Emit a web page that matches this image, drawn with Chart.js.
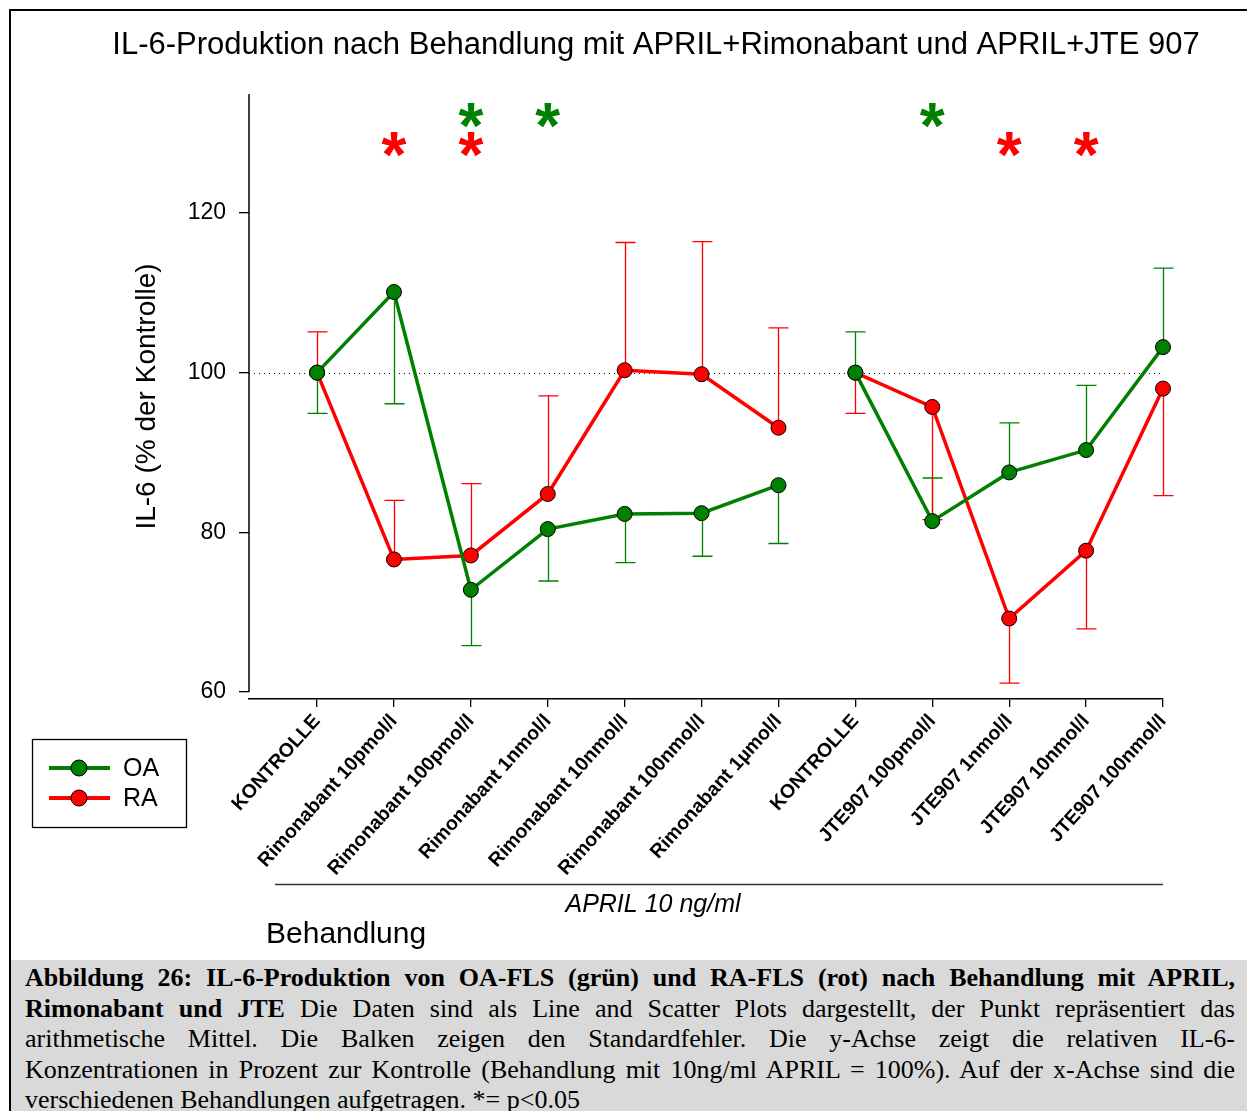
<!DOCTYPE html>
<html lang="de">
<head>
<meta charset="utf-8">
<title>IL-6-Produktion nach Behandlung</title>
<script src="https://cdn.jsdelivr.net/npm/chart.js@4.4.1/dist/chart.umd.min.js"></script>
<style>
  html, body { margin: 0; padding: 0; background: #fff; }
  body { width: 1247px; height: 1111px; position: relative; overflow: hidden; }
  #chart { position: absolute; left: 0; top: 0; }
  #frame { position: absolute; left: 9px; top: 9px; width: 1300px; height: 1200px; border-left: 2px solid #000; border-top: 2px solid #000; pointer-events: none; }
  #caption {
    position: absolute; left: 11px; top: 960px; width: 1236px; height: 151px;
    background: #d9d9d9; box-sizing: border-box; padding: 3px 12px 0 14px;
    font-family: "Liberation Serif", "Times New Roman", serif; font-size: 26px; line-height: 30.5px; color: #000;
  }
  #caption .ln { display: block; text-align: justify; text-align-last: justify; }
  #caption .ln.last { text-align-last: left; }
</style>
</head>
<body>
<canvas id="chart" width="1247" height="960"></canvas>
<div id="frame"></div>
<div id="caption">
  <span class="ln"><b>Abbildung 26: IL-6-Produktion von OA-FLS (grün) und RA-FLS (rot) nach Behandlung mit APRIL,</b></span>
  <span class="ln"><b>Rimonabant und JTE</b> Die Daten sind als Line and Scatter Plots dargestellt, der Punkt repräsentiert das</span>
  <span class="ln">arithmetische Mittel. Die Balken zeigen den Standardfehler. Die y-Achse zeigt die relativen IL-6-</span>
  <span class="ln">Konzentrationen in Prozent zur Kontrolle (Behandlung mit 10ng/ml APRIL = 100%). Auf der x-Achse sind die</span>
  <span class="ln last">verschiedenen Behandlungen aufgetragen. *= p&lt;0.05</span>
</div>
<script>
// treatments on the x axis (two groups, line is broken between them)
const labels = [
  "KONTROLLE", "Rimonabant 10pmol/l", "Rimonabant 100pmol/l", "Rimonabant 1nmol/l",
  "Rimonabant 10nmol/l", "Rimonabant 100nmol/l", "Rimonabant 1µmol/l",
  "KONTROLLE", "JTE907 100pmol/l", "JTE907 1nmol/l", "JTE907 10nmol/l", "JTE907 100nmol/l"
];
const gapAfter = 6;

// mean values (% der Kontrolle)
const oaMean = [100, 110.1, 72.8, 80.4, 82.3, 82.4, 85.9, 100, 81.4, 87.5, 90.3, 103.2];
const raMean = [100, 76.6, 77.1, 84.8, 100.3, 99.8, 93.1, 100, 95.7, 69.2, 77.7, 98.0];

// end of the (one sided) standard error bars
const oaErrEnd = [94.9, 96.1, 65.8, 73.9, 76.2, 77.0, 78.6, 105.1, 86.8, 93.7, 98.4, 113.1];
const raErrEnd = [105.1, 84.0, 86.1, 97.1, 116.3, 116.4, 105.6, 94.9, 81.6, 61.1, 67.9, 84.6];

// significance (p<0.05) marks
const oaSig = [2, 3, 8];
const raSig = [1, 2, 9, 10];
const oaStarLevel = 132.3;
const raStarLevel = 128.6;

const yTicks = [60, 80, 100, 120];
const refLine = 100;

const title = "IL-6-Produktion nach Behandlung mit APRIL+Rimonabant und APRIL+JTE 907";
const sans = "'Liberation Sans', Arial, sans-serif";

const extras = {
  id: "extras",
  beforeDatasetsDraw(chart) {
    const { ctx, chartArea: a, scales: { x, y } } = chart;
    ctx.save();
    // y axis only down to 60
    ctx.strokeStyle = "#000";
    ctx.lineWidth = 1.5;
    ctx.beginPath();
    ctx.moveTo(a.left, a.top);
    ctx.lineTo(a.left, y.getPixelForValue(yTicks[0]));
    ctx.stroke();
    // dotted reference line
    ctx.lineWidth = 1;
    ctx.setLineDash([1, 4]);
    const yr = Math.round(y.getPixelForValue(refLine)) + 0.5;
    ctx.beginPath();
    ctx.moveTo(a.left, yr);
    ctx.lineTo(a.right, yr);
    ctx.stroke();
    ctx.setLineDash([]);
    // error bars
    chart.data.datasets.forEach(ds => {
      ctx.strokeStyle = ds.borderColor;
      ctx.lineWidth = 1.3;
      ds.errEnd.forEach((e, i) => {
        const px = Math.round(x.getPixelForValue(i)) + 0.5;
        const p0 = y.getPixelForValue(ds.data[i].y);
        const p1 = y.getPixelForValue(e);
        ctx.beginPath();
        ctx.moveTo(px, p0);
        ctx.lineTo(px, p1);
        ctx.moveTo(px - 10, p1);
        ctx.lineTo(px + 10, p1);
        ctx.stroke();
      });
    });
    ctx.restore();
  },
  afterDraw(chart) {
    const { ctx, chartArea: a, scales: { x, y } } = chart;
    const ds = chart.data.datasets;
    ctx.save();
    // title
    ctx.fillStyle = "#000";
    ctx.font = "31px " + sans;
    ctx.textAlign = "center";
    ctx.textBaseline = "middle";
    ctx.fillText(title, 656, 45);

    // asterisks
    ctx.font = "bold 64px " + sans;
    ctx.textAlign = "center";
    ctx.textBaseline = "alphabetic";
    const star = (idx, level, color) => {
      ctx.fillStyle = color;
      idx.forEach(i => ctx.fillText("*", x.getPixelForValue(i), y.getPixelForValue(level) + 33));
    };
    star(oaSig, oaStarLevel, ds[0].borderColor);
    star(raSig, raStarLevel, ds[1].borderColor);

    // legend box
    ctx.strokeStyle = "#000";
    ctx.lineWidth = 1.3;
    ctx.strokeRect(32.5, 739.5, 154, 88);
    ds.forEach((d, k) => {
      const ly = 768 + k * 30;
      ctx.strokeStyle = d.borderColor;
      ctx.lineWidth = 4;
      ctx.beginPath();
      ctx.moveTo(49, ly);
      ctx.lineTo(110, ly);
      ctx.stroke();
      ctx.beginPath();
      ctx.arc(79, ly, 8, 0, Math.PI * 2);
      ctx.fillStyle = d.borderColor;
      ctx.fill();
      ctx.lineWidth = 1;
      ctx.strokeStyle = "#000";
      ctx.stroke();
      ctx.fillStyle = "#000";
      ctx.font = "25px " + sans;
      ctx.textAlign = "left";
      ctx.textBaseline = "middle";
      ctx.fillText(d.label, 123, ly + 1);
    });

    // APRIL bracket line and axis title
    ctx.strokeStyle = "#333";
    ctx.lineWidth = 1.5;
    ctx.beginPath();
    ctx.moveTo(275, 884.5);
    ctx.lineTo(a.right, 884.5);
    ctx.stroke();
    ctx.fillStyle = "#000";
    ctx.font = "italic 25px " + sans;
    ctx.textAlign = "center";
    ctx.textBaseline = "middle";
    ctx.fillText("APRIL 10 ng/ml", 653, 905);
    ctx.font = "30px " + sans;
    ctx.textAlign = "left";
    ctx.fillText("Behandlung", 266, 935);
    ctx.restore();
  }
};

const makeSet = (label, color, mean, errEnd) => ({
  label: label,
  data: mean.map((v, i) => ({ x: i, y: v })),
  errEnd: errEnd,
  borderColor: color,
  backgroundColor: color,
  borderWidth: 3.5,
  pointRadius: 7.5,
  pointBackgroundColor: color,
  pointBorderColor: "#000",
  pointBorderWidth: 1,
  tension: 0,
  clip: false,
  segment: { borderColor: c => c.p0DataIndex === gapAfter ? "rgba(0,0,0,0)" : undefined }
});

new Chart(document.getElementById("chart"), {
  type: "line",
  data: {
    datasets: [
      makeSet("OA", "#008000", oaMean, oaErrEnd),
      makeSet("RA", "#ff0000", raMean, raErrEnd)
    ]
  },
  options: {
    responsive: false,
    animation: false,
    layout: { padding: { left: 130, right: 84, top: 94, bottom: 0 } },
    plugins: {
      legend: { display: false },
      tooltip: { enabled: false },
      title: { display: false }
    },
    scales: {
      x: {
        type: "linear",
        min: -0.885,
        max: labels.length - 1,
        afterBuildTicks: s => { s.ticks = labels.map((_, i) => ({ value: i })); },
        afterFit: s => { s.height = 261; },
        ticks: {
          autoSkip: false,
          minRotation: 48,
          maxRotation: 48,
          padding: 3,
          color: "#000",
          font: { family: sans, size: 19.5, weight: "bold" },
          callback: v => labels[v]
        },
        grid: { drawOnChartArea: false, tickLength: 8, color: "#000", lineWidth: 1.3 },
        border: { display: true, color: "#000", width: 1.5 }
      },
      y: {
        min: 59.12,
        max: 134.9,
        afterBuildTicks: s => { s.ticks = yTicks.map(v => ({ value: v })); },
        afterFit: s => { s.width = 119; },
        ticks: { padding: 13, color: "#000", font: { family: sans, size: 23 } },
        grid: { drawOnChartArea: false, tickLength: 10, color: "#000", lineWidth: 1.3 },
        border: { display: false },
        title: {
          display: true,
          text: "IL-6 (% der Kontrolle)",
          color: "#000",
          padding: 0,
          font: { family: sans, size: 28 }
        }
      }
    }
  },
  plugins: [extras]
});
</script>
</body>
</html>
